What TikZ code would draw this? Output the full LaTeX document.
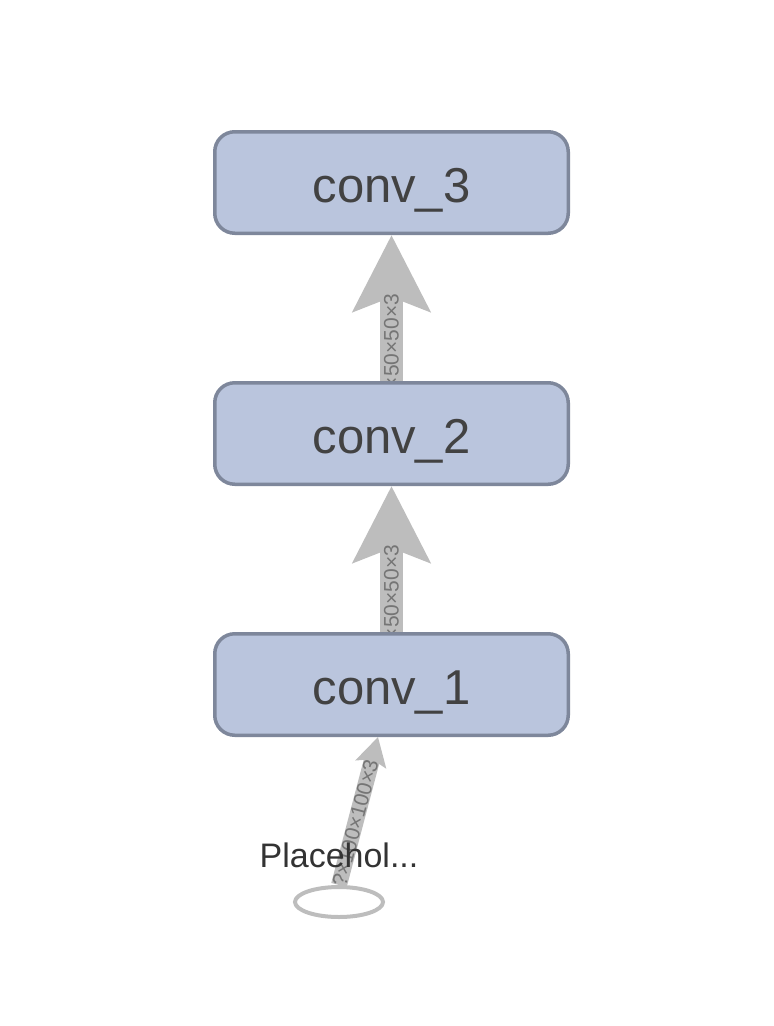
\documentclass[tikz,border=0pt]{standalone}
\usepackage{fontspec}
\setmainfont{Liberation Sans}
\usetikzlibrary{arrows.meta,backgrounds,calc,shapes.geometric}
\definecolor{boxfill}{HTML}{BAC5DD}
\definecolor{boxline}{HTML}{7E879B}
\definecolor{txt}{HTML}{424242}
\definecolor{arr}{HTML}{BDBDBD}
\definecolor{arrtxt}{HTML}{757575}
\definecolor{phtxt}{HTML}{333333}
\begin{document}
\begin{tikzpicture}[x=1pt,y=-1pt,
  box/.style={draw=boxline, fill=boxfill, line width=3.5pt, rounded corners=20pt,
    minimum width=353.5pt, minimum height=101.5pt, inner sep=0pt,
    text height=40pt, text depth=0pt,
    font=\fontsize{49}{49}\selectfont, text=txt},
  flow/.style={draw=arr, line width=23pt, -{Stealth[length=76pt,width=76pt,inset=14pt]}},
  flowsmall/.style={draw=arr, line width=16pt, -{Stealth[length=28pt,width=31pt,inset=5pt]}},
  flowlabel/.style={sloped, font=\fontsize{21}{21}\selectfont, text=arrtxt, inner sep=0pt},
  phnode/.style={draw=arr, line width=4pt, ellipse, minimum width=88pt, minimum height=30pt, inner sep=0pt},
  phlab/.style={font=\fontsize{34}{34}\selectfont, text=phtxt, inner sep=0pt}
]
\useasboundingbox (0,0) rectangle (774,1026);
\node[box] (c3) at (391.5,182.5) {conv\_3};
\node[box] (c2) at (391.5,433.5) {conv\_2};
\node[box] (c1) at (391.5,684.5) {conv\_1};
\node[phnode] (ph) at (339,902) {};
\coordinate (c1in) at ($(c1.south)+(-13.5,0)$);
\begin{pgfonlayer}{background}
  \draw[flow] (c2.north) -- (c3.south) node[flowlabel, pos=0.23] {?×50×50×3};
  \draw[flow] (c1.north) -- (c2.south) node[flowlabel, pos=0.23] {?×50×50×3};
  \draw[flowsmall] (ph.north) -- (c1in) node[flowlabel, pos=0.42] {?×100×100×3};
\end{pgfonlayer}
\node[phlab] (phl) at (339,855) {Placehol...};
\end{tikzpicture}
\end{document}
